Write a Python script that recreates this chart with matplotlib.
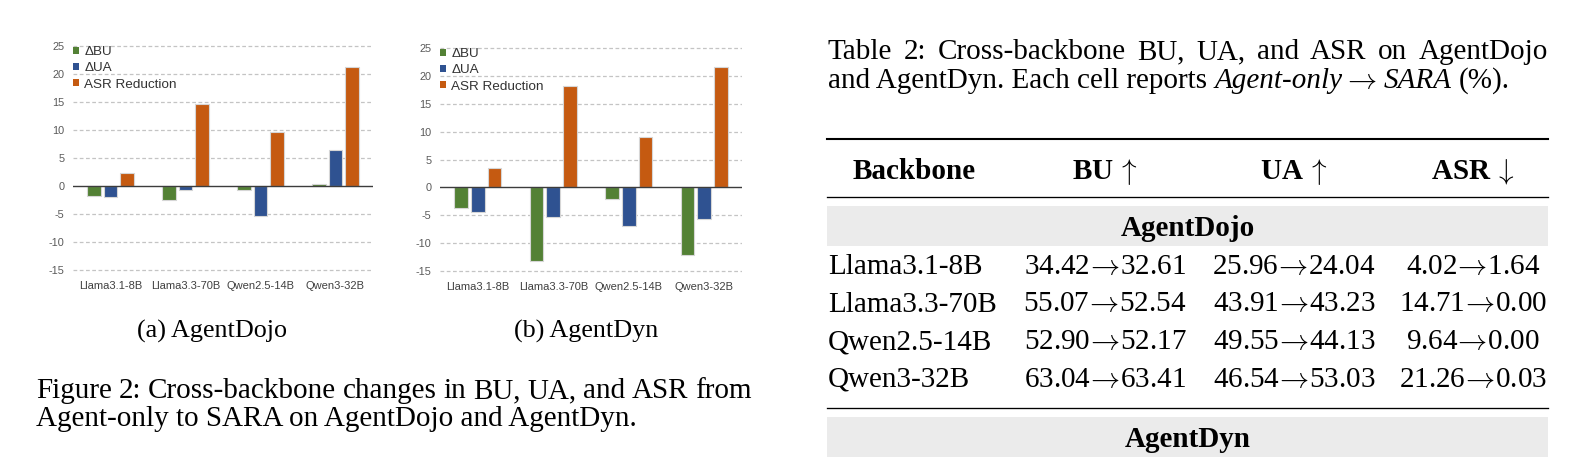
import numpy as np
import matplotlib
matplotlib.use("Agg")
import matplotlib.pyplot as plt
from matplotlib.patches import Patch, Rectangle
from matplotlib.lines import Line2D

plt.rcParams["axes.unicode_minus"] = False
plt.rcParams["mathtext.fontset"] = "cm"

# ---- data ----
backbones = ["Llama3.1-8B", "Llama3.3-70B", "Qwen2.5-14B", "Qwen3-32B"]

# AgentDojo table (Agent-only -> SARA, %)
bu_before = [34.42, 55.07, 52.90, 63.04]
bu_after = [32.61, 52.54, 52.17, 63.41]
ua_before = [25.96, 43.91, 49.55, 46.54]
ua_after = [24.04, 43.23, 44.13, 53.03]
asr_before = [4.02, 14.71, 9.64, 21.26]
asr_after = [1.64, 0.00, 0.00, 0.03]

# AgentDyn changes
dyn_dbu = [-3.78, -13.25, -2.10, -12.05]
dyn_dua = [-4.44, -5.34, -6.96, -5.60]
dyn_asr_red = [3.48, 18.20, 9.06, 21.60]

series_names = ["\u0394BU", "\u0394UA", "ASR Reduction"]
colors = ["#538135", "#2f5291", "#c55a11"]
headers = ["Backbone", r"BU$\,\uparrow$", r"UA$\,\uparrow$", r"ASR$\,\downarrow$"]

W, H = 1584, 462
SERIF = ["Liberation Serif", "DejaVu Serif"]
SANS = ["Liberation Sans", "DejaVu Sans"]
RARROW = r"$\rightarrow$"
CELL_ARROW = r"$\!\rightarrow\!$"

fig = plt.figure(figsize=(W / 100, H / 100), dpi=100)


def fx(x):
    return x / W


def fy(y):
    return 1 - y / H


def axes_px(l, t, r, b):
    return fig.add_axes([l / W, 1 - b / H, (r - l) / W, (b - t) / H])


def bar_panel(ax, vals, leg_xy):
    x = np.arange(len(backbones))
    offs = [-0.22, 0.0, 0.22]
    for v, o, c in zip(vals, offs, colors):
        ax.bar(x + o, v, width=0.18, color=c, edgecolor="#d6d6d6",
               linewidth=0.8, zorder=2)
    for g in [-15, -10, -5, 5, 10, 15, 20, 25]:
        ax.axhline(g, color="#c4c4c4", lw=0.9, ls=(0, (3, 2)), zorder=0)
    ax.axhline(0, color="#3c3c3c", lw=1.0, zorder=3)
    ax.set_xlim(-0.5, len(backbones) - 0.5)
    ax.set_ylim(-15.3, 25.3)
    ax.set_yticks(range(-15, 30, 5))
    ax.set_xticks(x)
    ax.set_xticklabels(backbones)
    for s in ax.spines.values():
        s.set_visible(False)
    ax.tick_params(axis="y", length=0, pad=6, labelsize=7.8, labelcolor="#595959")
    ax.tick_params(axis="x", length=0, pad=7, labelsize=8, labelcolor="#404040")
    for lab in ax.get_xticklabels() + ax.get_yticklabels():
        lab.set_family(SANS)
    handles = [Patch(facecolor=c) for c in colors]
    leg = ax.legend(handles, series_names, loc="upper left",
                    bbox_to_anchor=(fx(leg_xy[0]), fy(leg_xy[1])),
                    bbox_transform=fig.transFigure, frameon=False,
                    prop={"family": SANS, "size": 9.7},
                    handlelength=0.45, handleheight=0.45, handletextpad=0.4,
                    labelspacing=0.32, borderpad=0, borderaxespad=0)
    for t in leg.get_texts():
        t.set_color("#333333")


# ---- panel (a) AgentDojo ----
dojo_dbu = np.array(bu_after) - np.array(bu_before)
dojo_dua = np.array(ua_after) - np.array(ua_before)
dojo_asr_red = np.array(asr_before) - np.array(asr_after)

ax1 = axes_px(73, 44.3, 373, 271.7)
bar_panel(ax1, [dojo_dbu, dojo_dua, dojo_asr_red], (73, 46))

# ---- panel (b) AgentDyn ----
ax2 = axes_px(440, 46.3, 742, 272.7)
bar_panel(ax2, [dyn_dbu, dyn_dua, dyn_asr_red], (440, 48))

# ---- text helpers ----
renderer = fig.canvas.get_renderer()


def text_w(s, size, **kw):
    t = fig.text(0, 0, s, size=size, family=SERIF, **kw)
    w = t.get_window_extent(renderer).width
    t.remove()
    return w


def runs(x, y, parts, size=21, gap=None):
    # parts: (text, props) or None for a word space
    sp = gap if gap is not None else text_w("a a", size) - text_w("aa", size)
    cur = x
    for p in parts:
        if p is None:
            cur += sp
            continue
        t = fig.text(fx(cur), fy(y), p[0], size=size, family=SERIF,
                     va="baseline", ha="left", **p[1])
        cur += t.get_window_extent(renderer).width


def justify(x0, x1, y, line, size=21):
    words = line.split(" ")
    ws = [text_w(w, size) for w in words]
    gap = (x1 - x0 - sum(ws)) / (len(words) - 1)
    parts = []
    for i, w in enumerate(words):
        parts.append((w, {}))
        if i < len(words) - 1:
            parts.append(None)
    runs(x0, y, parts, size=size, gap=gap)


# ---- captions under the figure ----
fig.text(fx(212), fy(338), "(a) AgentDojo", size=18.8, family=SERIF,
         ha="center", va="baseline")
fig.text(fx(586), fy(338), "(b) AgentDyn", size=18.8, family=SERIF,
         ha="center", va="baseline")
justify(36, 752, 398, "Figure 2: Cross-backbone changes in BU, UA, and ASR from")
fig.text(fx(36), fy(426), "Agent-only to SARA on AgentDojo and AgentDyn.",
         size=21, family=SERIF, va="baseline")

# ---- table ----
tl, tr = 827, 1548
justify(tl + 1, tr, 59, "Table 2: Cross-backbone BU, UA, and ASR on AgentDojo")
it = {"style": "italic"}
rm = {}
runs(tl + 1, 88, [("and AgentDyn. Each cell reports", rm), None, ("Agent-only", it),
                  (RARROW, rm), None, ("SARA", it), None, ("(%).", rm)])


def rule(y, lw):
    fig.add_artist(Line2D([fx(tl), fx(tr)], [fy(y), fy(y)], color="black",
                          lw=lw, transform=fig.transFigure))


def band(y0, y1):
    fig.add_artist(Rectangle((fx(tl), fy(y1)), fx(tr) - fx(tl), fy(y0) - fy(y1),
                             facecolor="#ebebeb", edgecolor="none",
                             transform=fig.transFigure))


rule(139, 1.5)
rule(197, 0.95)
rule(408, 0.95)
band(206, 246)
band(417, 457)

col_x = [914.5, 1105, 1294, 1473]
for cx, h in zip(col_x, headers):
    fig.text(fx(cx), fy(179), h, size=21, family=SERIF, weight="bold",
             ha="center", va="baseline")

fig.text(fx((tl + tr) / 2), fy(236), "AgentDojo", size=21, family=SERIF,
         weight="bold", ha="center", va="baseline")
fig.text(fx((tl + tr) / 2), fy(447), "AgentDyn", size=21, family=SERIF,
         weight="bold", ha="center", va="baseline")

row_y = [274, 311.5, 349, 386.5]
for i, name in enumerate(backbones):
    y = row_y[i]
    fig.text(fx(828), fy(y), name, size=21, family=SERIF, va="baseline")
    cells = [(bu_before[i], bu_after[i]), (ua_before[i], ua_after[i]),
             (asr_before[i], asr_after[i])]
    for cx, (b, a) in zip(col_x[1:], cells):
        fig.text(fx(cx), fy(y), f"{b:.2f}{CELL_ARROW}{a:.2f}", size=21,
                 family=SERIF, ha="center", va="baseline")

fig.savefig("out.png", dpi=100)
